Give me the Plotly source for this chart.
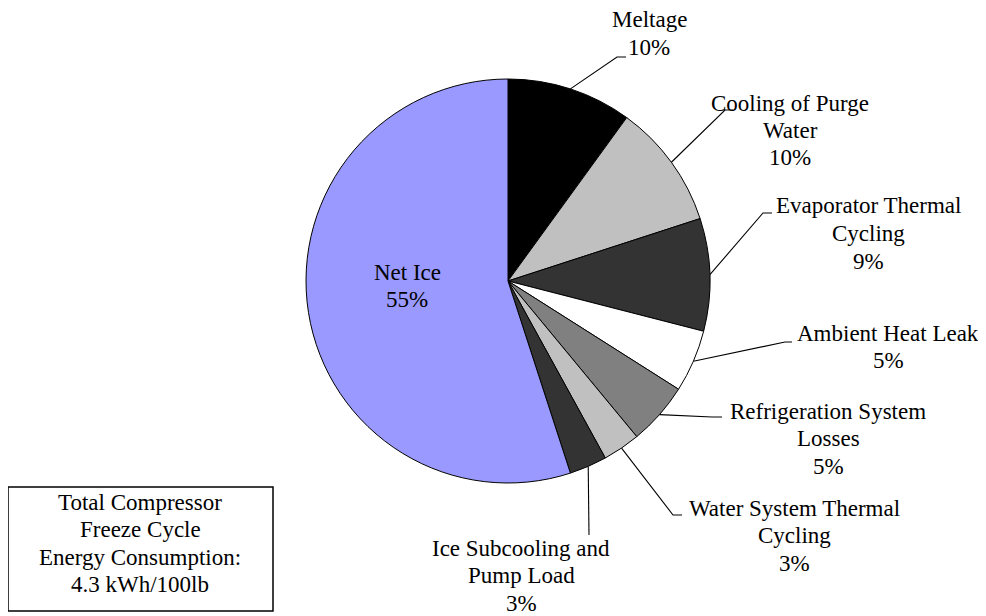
import numpy as np
import plotly.graph_objects as go

W, H = 986, 616
OFF = 8  # page body margin the browser adds around the plot

labels = ["Meltage", "Cooling of Purge Water", "Evaporator Thermal Cycling",
          "Ambient Heat Leak", "Refrigeration System Losses",
          "Water System Thermal Cycling", "Ice Subcooling and Pump Load", "Net Ice"]
values = [10, 10, 9, 5, 5, 3, 3, 55]
colors = ["#000000", "#C0C0C0", "#333333", "#FFFFFF", "#808080",
          "#C0C0C0", "#333333", "#9999FF"]
label_lines = [["Meltage", "10%"], ["Cooling of Purge", "Water", "10%"],
               ["Evaporator Thermal", "Cycling", "9%"], ["Ambient Heat Leak", "5%"],
               ["Refrigeration System", "Losses", "5%"],
               ["Water System Thermal", "Cycling", "3%"],
               ["Ice Subcooling and", "Pump Load", "3%"], ["Net Ice", "55%"]]
note_lines = ["Total Compressor", "Freeze Cycle", "Energy Consumption:", "4.3 kWh/100lb"]

# pie placement (screen pixels)
cx, cy, r = 508, 281, 202
# label centre x and first-line y, leader elbows (screen pixels)
label_pos = [(649, 20), (790, 103), (868, 206), (888, 333),
             (828, 411), (794, 508), (521, 548), (407, 272)]
elbows = [((617, 57), (626, 57)), ((725, 110), (733, 110)),
          ((763, 213), (772, 213)), ((785, 342), (792, 342)),
          ((712, 417), (722, 417)), ((673, 515), (682, 515)),
          ((589, 535), (589, 535)), None]
line_gap = 27.5


def px(x, y):
    return (x - OFF) / W, 1 - (y - OFF) / H


x0, y0 = px(cx - r, cy + r)
x1, y1 = px(cx + r, cy - r)
fig = go.Figure(go.Pie(
    labels=labels, values=values, sort=False, direction="clockwise",
    rotation=0, textinfo="none", hoverinfo="label+percent",
    marker=dict(colors=colors, line=dict(color="#000000", width=1)),
    domain=dict(x=[x0, x1], y=[y0, y1]),
    showlegend=False,
))

font = dict(family="Liberation Serif, Times New Roman, serif", size=23, color="#000000")
annotations = []
shapes = []


def add_lines(lines, xc, ytop):
    for k, t in enumerate(lines):
        ax, ay = px(xc, ytop + k * line_gap)
        annotations.append(dict(x=ax, y=ay, xref="paper", yref="paper", text=t,
                                showarrow=False, xanchor="center", yanchor="middle",
                                font=font))


total = sum(values)
cum = 0
for i, v in enumerate(values):
    mid = (cum + v / 2) / total * 2 * np.pi
    cum += v
    add_lines(label_lines[i], *label_pos[i])
    if elbows[i] is None:
        continue
    sx, sy = cx + r * np.sin(mid), cy - r * np.cos(mid)
    (ex, ey), (tx, ty) = elbows[i]
    path = "M {},{} L {},{} L {},{}".format(*px(sx, sy), *px(ex, ey), *px(tx, ty))
    shapes.append(dict(type="path", path=path, xref="paper", yref="paper",
                       line=dict(color="#000000", width=1.1)))

# summary box
bx0, by0 = px(8, 611)
bx1, by1 = px(273, 487)
shapes.append(dict(type="rect", xref="paper", yref="paper", x0=bx0, y0=by0, x1=bx1, y1=by1,
                   line=dict(color="#000000", width=1.5), fillcolor="#FFFFFF", layer="below"))
add_lines(note_lines, 140, 502)

fig.update_layout(
    width=W, height=H,
    margin=dict(l=0, r=0, t=0, b=0),
    paper_bgcolor="#FFFFFF", plot_bgcolor="#FFFFFF",
    shapes=shapes, annotations=annotations,
)

fig.write_html("out.html")
